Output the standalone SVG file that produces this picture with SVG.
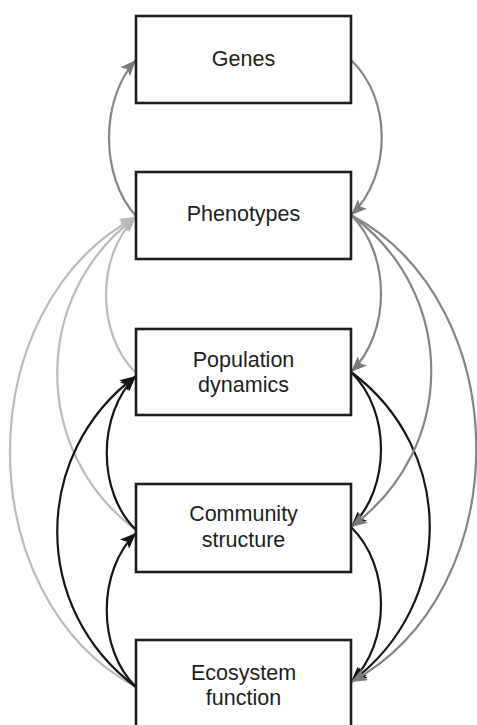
<svg xmlns="http://www.w3.org/2000/svg" width="477" height="725" viewBox="0 0 477 725">
<defs>
<style>
.box{fill:#fff;stroke:#1e1e1e;stroke-width:2.6}
.lbl{font-family:"Liberation Sans",Arial,sans-serif;font-size:21.5px;fill:#1e1e1e;text-anchor:middle}
.c{fill:none;stroke-width:2.2}
.k{stroke:#151515}
.g{stroke:#858585}
.l{stroke:#bcbcbc}
</style>
<marker id="ak" markerUnits="userSpaceOnUse" markerWidth="17" markerHeight="13" refX="16" refY="6.5" orient="auto"><path d="M0,0 L16,6.5 L0,13 L3.5,6.5 z" fill="#151515"/></marker>
<marker id="ag" markerUnits="userSpaceOnUse" markerWidth="17" markerHeight="13" refX="16" refY="6.5" orient="auto"><path d="M0,0 L16,6.5 L0,13 L3.5,6.5 z" fill="#7a7a7a"/></marker>
<marker id="al" markerUnits="userSpaceOnUse" markerWidth="17" markerHeight="13" refX="16" refY="6.5" orient="auto"><path d="M0,0 L16,6.5 L0,13 L3.5,6.5 z" fill="#b8b8b8"/></marker>
</defs>
<rect width="477" height="725" fill="#fff"/>
<g id="connectors">
<path class="c l" d="M136,373 C96,334 96,256 136,217" marker-end="url(#al)"/>
<path class="c l" d="M136,530 C31,452 31,295 136,217" marker-end="url(#al)"/>
<path class="c l" d="M136,687 C-32,597 -32,307 136,217" marker-end="url(#al)"/>
<path class="c g" d="M136,216 C100,177 100,99 136,60" marker-end="url(#ag)"/>
<path class="c k" d="M136,530 C97,492 97,414 136,376" marker-end="url(#ak)"/>
<path class="c k" d="M136,687 C31,609 31,454 136,376" marker-end="url(#ak)"/>
<path class="c k" d="M136,687 C97,649 97,571 136,533" marker-end="url(#ak)"/>
<path class="c k" d="M351,372 C391,411 391,488 351,527" marker-end="url(#ak)"/>
<path class="c k" d="M351,372 C456,450 456,604 351,682" marker-end="url(#ak)"/>
<path class="c k" d="M351,527 C391,566 391,643 351,682" marker-end="url(#ak)"/>
<path class="c g" d="M351,60 C392,99 392,176 351,215" marker-end="url(#ag)"/>
<path class="c g" d="M351,215 C391,254 391,333 351,372" marker-end="url(#ag)"/>
<path class="c g" d="M351,215 C458,293 458,449 351,527" marker-end="url(#ag)"/>
<path class="c g" d="M351,215 C518,305 518,592 351,682" marker-end="url(#ag)"/>
</g>
<g id="genes"><rect class="box" x="136" y="16" width="215" height="87"/><text class="lbl" x="243.5" y="66">Genes</text></g>
<g id="phenotypes"><rect class="box" x="136" y="172" width="215" height="87"/><text class="lbl" x="243.5" y="221">Phenotypes</text></g>
<g id="population-dynamics"><rect class="box" x="136" y="329" width="215" height="86"/><text class="lbl" x="243.5" y="367">Population</text><text class="lbl" x="243.5" y="392">dynamics</text></g>
<g id="community-structure"><rect class="box" x="136" y="484" width="215" height="88"/><text class="lbl" x="243.5" y="521">Community</text><text class="lbl" x="243.5" y="547">structure</text></g>
<g id="ecosystem-function"><rect class="box" x="136" y="640" width="215" height="95"/><text class="lbl" x="243.5" y="680">Ecosystem</text><text class="lbl" x="243.5" y="705">function</text></g>
</svg>
